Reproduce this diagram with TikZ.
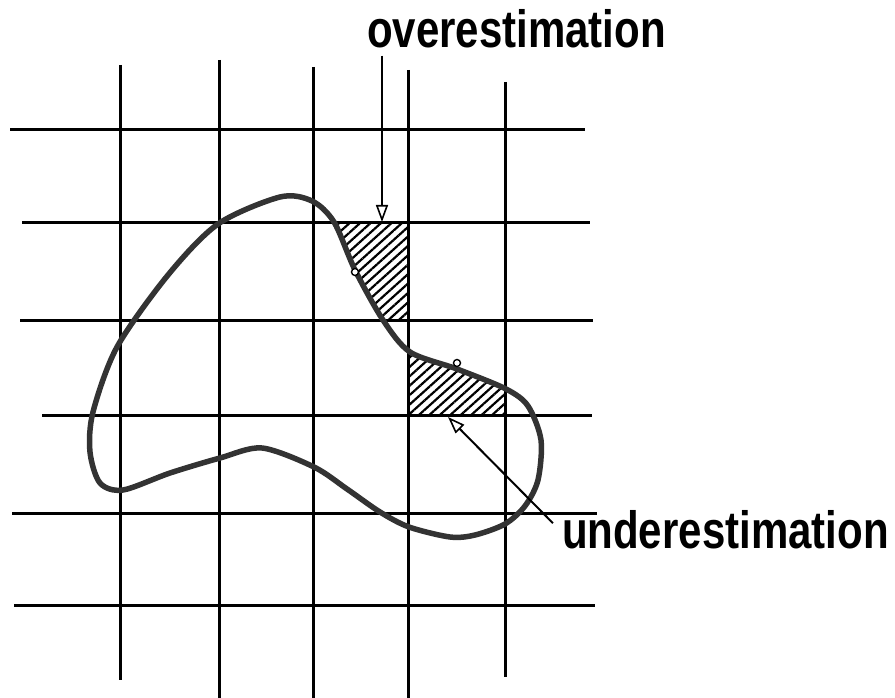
\documentclass[tikz,border=0pt]{standalone}
\usepackage{fontspec}
\setmainfont{Liberation Sans}
\usepackage{tikz}
\usetikzlibrary{arrows.meta,patterns.meta}
\newcommand{\tallword}[1]{\scalebox{1}[1.25]{#1}}
\newcommand{\blobpath}{plot[smooth cycle] coordinates {(218,224) (280,197) (312,201) (334,222) (355,270) (383,320) (410,352) (457,369) (506,389) (528,406) (541,440) (538,480) (525,506) (505,524) (475,535) (450,537) (409,527) (380,512) (347,489) (314,467) (262,448) (220,458) (170,473) (123,490) (100,483) (90,452) (93,412) (117,347) (168,275)}}

\begin{document}
\begin{tikzpicture}[x=1pt,y=-1pt,>=Latex]
  \tikzstyle{grid}=[line width=3pt,black]
  \tikzstyle{blob}=[line width=5.5pt,black!80]
  \tikzstyle{hatch}=[pattern={Lines[angle=42,distance=7pt,line width=2.2pt]}]
  \tikzstyle{arr}=[-{Triangle[open,length=17pt,width=12pt,line width=1.6pt]},line width=2pt]
  \tikzstyle{label}=[font=\bfseries\fontsize{42}{42}\selectfont,inner sep=0pt,outer sep=0pt]
  \tikzstyle{dot}=[circle,draw,fill=white,line width=1.4pt,inner sep=0pt,minimum size=7pt]
  \useasboundingbox (0,0) rectangle (895,698);
  % hatched cells
  \begin{scope}
    \clip (313,222) rectangle (408,320);
    \fill[hatch,even odd rule] (313,222) rectangle (408,320) \blobpath;
  \end{scope}
  \begin{scope}
    \clip \blobpath;
    \fill[hatch] (408,320) rectangle (505,415);
  \end{scope}
  % grid
  \foreach \x/\ya/\yb in {120/65/680,219/60/698,313/67/698,408/70/698,505/82/677}
    \draw[grid] (\x,\ya) -- (\x,\yb);
  \foreach \y/\xa/\xb in {130/10/585,223/22/590,320/20/593,415/42/592,513/12/597,605/14/595}
    \draw[grid] (\xa,\y) -- (\xb,\y);
  % region
  \draw[blob] \blobpath;
  \node[dot] (p1) at (355,272) {};
  \node[dot] (p2) at (457,363) {};
  % labels
  \node[label,anchor=base west] (over) at (367,48) {\tallword{overestimation}};
  \node[label,anchor=base west] (under) at (562,548) {\tallword{underestimation}};
  \coordinate (overtip) at (382,222);
  \coordinate (undertip) at (448,417);
  \draw[arr,shorten <=7pt] (over.south -| overtip) -- (overtip);
  \draw[arr] ([shift={(-9,-6)}]under.west) -- (undertip);
\end{tikzpicture}
\end{document}
